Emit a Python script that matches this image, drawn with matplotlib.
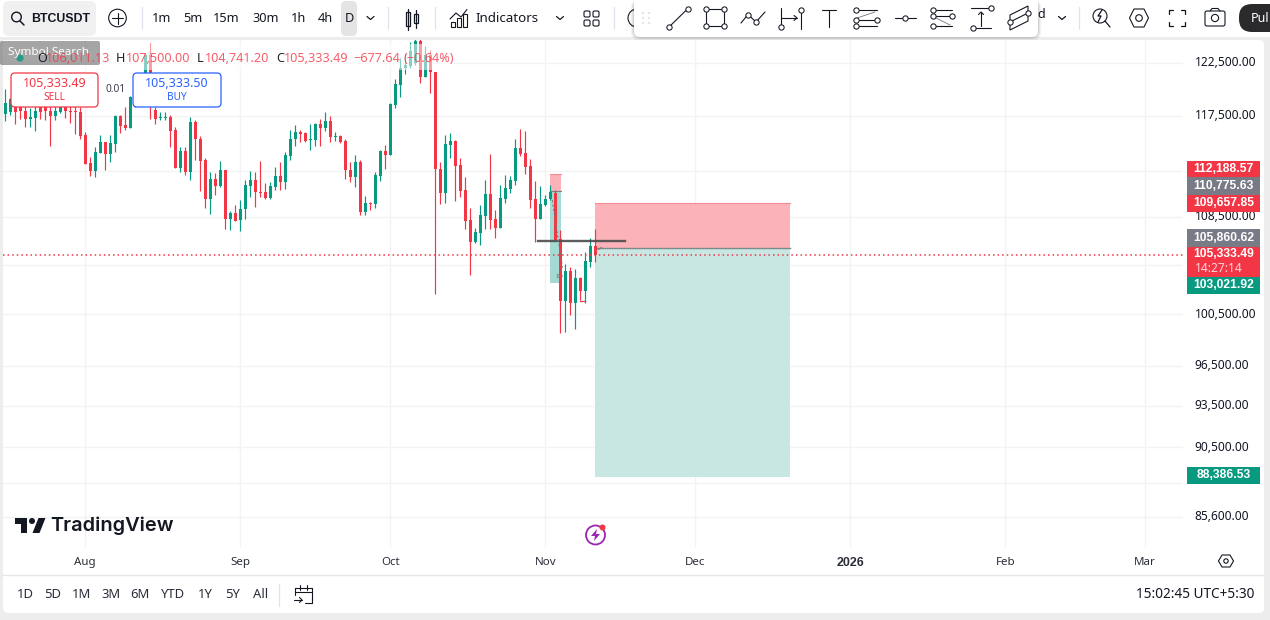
import matplotlib
matplotlib.use("Agg")
import matplotlib.pyplot as plt
from matplotlib.patches import FancyBboxPatch, Rectangle, Circle, Polygon
from matplotlib.transforms import ScaledTranslation

plt.rcParams['font.family'] = ['Noto Sans', 'DejaVu Sans']

# daily candles, first one is 16 Jul 2025
opens = [117640, 117850, 118320, 118420, 117920, 117200, 117260, 118480, 118570, 117920, 117480, 117860,
         118320, 117920, 117920, 117860, 115700, 113240, 112470, 114110, 115070, 113990, 114890, 117480,
         116620, 116340, 119260, 118690, 120080, 123240, 118010, 117290, 117290, 117390, 116160, 112740,
         114230, 112410, 116930, 115400, 113450, 110020, 111740, 111150, 112560, 108330, 108790, 108220,
         109150, 111180, 111680, 110660, 110630, 110140, 111090, 112030, 111530, 113840, 115370, 115980,
         115860, 115280, 115250, 116710, 116340, 116990, 115520, 115610, 115160, 112620, 111970, 113270,
         108930, 109700, 109590, 112060, 114260, 113900, 118480, 120360, 121950, 122170, 122460, 124600,
         121150, 123240, 121600, 112710, 110570, 114800, 115160, 113010, 110800, 108220, 106360, 107120,
         108560, 110510, 108300, 107540, 110020, 110890, 111620, 114530, 114050, 112920, 110020, 108300,
         109500, 110020, 110570, 106610, 101530, 103960, 101400, 103390, 102330, 104720, 106011.13]
highs = [119950, 119100, 118480, 118480, 118480, 118165, 118940, 118630, 118630, 118630, 118480, 118940,
         118940, 118480, 118630, 118320, 116010, 113750, 114650, 115700, 115070, 115700, 117540, 117540,
         118320, 119320, 119410, 120300, 123400, 124375, 118320, 117860, 117860, 117540, 116410, 114590,
         114650, 117330, 117080, 115610, 113660, 112410, 112270, 113390, 112620, 109010, 109500, 109940,
         111680, 112500, 112410, 113360, 111390, 111530, 112860, 113300, 114200, 116220, 116620, 116220,
         116010, 116710, 116830, 117230, 117860, 117450, 116010, 115730, 115340, 113300, 113900, 113510,
         110280, 109790, 112410, 114350, 114800, 118630, 120930, 122910, 123400, 124540, 126200, 126100,
         124110, 123720, 121600, 113300, 115700, 115860, 115310, 113660, 111970, 109270, 107560, 109500,
         111680, 113960, 109130, 111300, 112120, 112030, 115400, 116310, 116070, 113600, 111590, 111150,
         110370, 111240, 110800, 107370, 104590, 104320, 104120, 103500, 105550, 106720, 107500.00]
lows = [117020, 117540, 116770, 117230, 116410, 116460, 116070, 117230, 117080, 114710, 117080, 117770,
        117290, 116860, 115770, 115400, 113150, 112030, 111970, 114050, 112620, 113300, 114200, 115920,
        116220, 116340, 118320, 118480, 119880, 117230, 116770, 117140, 117140, 114590, 112740, 112410,
        112120, 111680, 113450, 110710, 109270, 108730, 110370, 111090, 107510, 107370, 108130, 107310,
        108360, 110230, 109360, 110230, 110080, 110080, 110800, 110860, 110890, 113450, 114740, 115100,
        115100, 114350, 114740, 114710, 116100, 115100, 115160, 115040, 111770, 111500, 111090, 108640,
        108640, 109070, 109270, 111620, 112650, 113900, 118200, 119260, 121400, 121950, 122270, 120570,
        121090, 119630, 102090, 109590, 109650, 113630, 109850, 110230, 107450, 103630, 106330, 106110,
        107450, 107450, 106690, 107540, 109700, 110570, 111240, 113810, 112210, 109240, 106390, 108300,
        109420, 109940, 106530, 99030, 99110, 100420, 99320, 101610, 101430, 104320, 104741.20]
closes = [118630, 119050, 117860, 117920, 117200, 117390, 117920, 117860, 117920, 117450, 117920, 118320,
          117920, 117820, 117860, 115610, 113150, 112470, 114170, 115070, 113990, 114950, 117480, 116520,
          116340, 119260, 118690, 120080, 123240, 118320, 117200, 117390, 117360, 116100, 112740, 114230,
          112380, 116900, 115370, 113360, 110020, 111740, 111150, 112560, 108300, 108790, 108190, 109210,
          111240, 111680, 110630, 110540, 110140, 111150, 112030, 111530, 113900, 115400, 115980, 115800,
          115160, 115370, 116710, 116340, 116990, 115550, 115610, 115100, 112560, 111970, 113270, 108930,
          109650, 109590, 112120, 114260, 113900, 118570, 120450, 121950, 122270, 123620, 124600, 121150,
          123240, 121560, 112650, 110570, 114890, 115160, 112950, 110710, 108160, 106360, 107200, 108640,
          110510, 108220, 107540, 110110, 110980, 111680, 114530, 113990, 112860, 109940, 108300, 109590,
          110080, 110660, 106530, 101530, 103960, 101400, 103390, 102330, 104780, 106030, 105333.49]

month_names = ["Aug", "Sep", "Oct", "Nov", "Dec", "2026", "Feb", "Mar"]
month_bars = [16, 47, 77, 108, 138, 169, 200, 228]
grid_prices = [122500, 117500, 112500, 108500, 104500, 100500, 96500, 93500, 90500, 88000, 85700]
grid_labels = ["122,500.00", "117,500.00", "", "108,500.00", "", "100,500.00",
               "96,500.00", "93,500.00", "90,500.00", "", "85,600.00"]

last_price = 105333.49
# long position tools: target, entry, stop
small_top, small_entry, small_bottom = 112188.57, 110775.63, 103021.92
big_top, big_entry, big_bottom = 109657.85, 105860.62, 88386.53
level_price = 106450

green = "#089981"
red = "#F23645"
pale_red = "#FBB2B8"
pale_teal = "#C8E7E2"
dark_teal = "#A5DAD2"
ink = "#131722"
grid_col = "#F3F3F3"
page = "#EDEDED"

fig = plt.figure(figsize=(12.7, 6.2), dpi=100, facecolor=page)

# white card behind everything
bg = fig.add_axes([0, 0, 1, 1], zorder=-1)
bg.set_xlim(0, 1270)
bg.set_ylim(620, 0)
bg.axis("off")
bg.add_patch(FancyBboxPatch((3, 40), 1261, 573, boxstyle="round,pad=0,rounding_size=5", fc="white", lw=0))

# ---- chart pane ----
ax = fig.add_axes([3 / 1270, (620 - 547) / 620, 1180 / 1270, 507 / 620], facecolor="white", zorder=1)
ax.set_yscale("log")
ax.set_xlim(-0.46, 235.54)
ax.set_ylim(83680, 124703)
for s in ax.spines.values():
    s.set_visible(False)

ax.yaxis.tick_right()
ax.minorticks_off()
ax.set_yticks(grid_prices)
ax.set_yticklabels(grid_labels, fontsize=8.6, color=ink)
ax.tick_params(axis="y", length=0, pad=8.5, which="both")
ax.tick_params(axis="y", which="minor", right=False, labelright=False)
for t in ax.get_yticklabels():
    t.set_transform(t.get_transform() + ScaledTranslation(0, 1.5 / 100, fig.dpi_scale_trans))
ax.set_xticks(month_bars)
ax.set_xticklabels(month_names, fontsize=8.3, color="#2A2E39")
year_label = ax.get_xticklabels()[5]
year_label.set_family("Liberation Sans")
year_label.set_fontweight("bold")
year_label.set_fontsize(9)
ax.tick_params(axis="x", length=0, pad=7)
ax.grid(True, color=grid_col, linewidth=1)
ax.set_axisbelow(True)

# position boxes sit under the candles
ax.add_patch(Rectangle((109, small_entry), 2.2, small_top - small_entry, color=pale_red, lw=0, zorder=1))
ax.add_patch(Rectangle((109, small_bottom), 2.2, small_entry - small_bottom, color=dark_teal, lw=0, zorder=1))
ax.add_patch(Rectangle((118, big_entry), 39, big_top - big_entry, color=pale_red, lw=0, zorder=1))
ax.add_patch(Rectangle((118, big_bottom), 39, big_entry - big_bottom, color=pale_teal, lw=0, zorder=1))
ax.plot([109, 111.2], [small_top, small_top], color="#F58D95", lw=0.8, zorder=1.5)
ax.plot([109, 111.2], [small_entry, small_entry], color="#7C7F88", lw=0.8, zorder=1.5)
ax.plot([118, 157], [big_top, big_top], color="#F58D95", lw=0.8, zorder=1.5)
ax.plot([118, 157], [big_entry, big_entry], color="#7C8A8A", lw=1, zorder=1.5)

for i in range(len(opens)):
    col = green if closes[i] >= opens[i] else red
    ax.vlines(i, lows[i], highs[i], color=col, lw=0.85, zorder=2)
    body = abs(closes[i] - opens[i])
    ax.bar(i, max(body, 35), bottom=min(opens[i], closes[i]), width=0.72, color=col, lw=0, zorder=2.2)

ax.axhline(last_price, color=red, lw=1.1, linestyle=(0, (1, 2)), zorder=2.5)
ax.plot([106.5, 124], [level_price, level_price], color="#4B4B4B", lw=1.7, alpha=0.9, zorder=3)
ax.plot([115, 116], [101530, 101530], color=red, lw=0.9, zorder=2.3)
ax.plot([109.4, 111.4, 110.2, 112], [109940, 104320, 103450, 103630], color="#777777", lw=0.8,
        linestyle=(0, (2, 2)), zorder=3)
ax.plot([118.6, 119.2], [105750, 105910], color="#777777", lw=0.8, zorder=3)

# ---- interface drawn in pixel coordinates on top ----
ui = fig.add_axes([0, 0, 1, 1], facecolor="none", zorder=5)
ui.set_xlim(0, 1270)
ui.set_ylim(620, 0)
ui.axis("off")


def box(x0, y0, x1, y1, fc, ec="none", r=4, lw=0, alpha=None, z=1):
    p = FancyBboxPatch((x0, y0), x1 - x0, y1 - y0, boxstyle="round,pad=0,rounding_size=%s" % r,
                       fc=fc, ec=ec, lw=lw, alpha=alpha, zorder=z)
    ui.add_patch(p)


def line(xs, ys, col=ink, lw=0.8, z=6):
    ui.plot(xs, ys, color=col, lw=lw, zorder=z, solid_capstyle="round")


def node(x, y, z=7):
    ui.plot([x], [y], "o", mfc="white", mec=ink, ms=3.8, mew=0.75, zorder=z)


def label(x, y, s, size=8.6, col=ink, ha="center", weight="normal", z=6, family=None):
    ui.text(x, y, s, fontsize=size, color=col, ha=ha, va="center", fontweight=weight, zorder=z, family=family)


# top strip and time axis separator
ui.add_patch(Rectangle((0, 0), 1270, 37, fc="white", lw=0, zorder=0.5))
line([3, 1264], [575, 575], col="#E6E6E6", lw=1, z=1)

# top toolbar
box(3, 1, 96, 36, "#F0F0F0", r=6)
ui.add_patch(Circle((16.5, 17), 4.8, fc="none", ec=ink, lw=1, zorder=6))
line([20, 24], [21, 25], lw=1.1)
label(60.5, 18.5, "BTCUSDT", size=8.9, weight="bold", family="Liberation Sans")
ui.add_patch(Circle((117.5, 18), 8.8, fc="none", ec=ink, lw=0.8, zorder=6))
line([112, 123], [18, 18])
line([117.5, 117.5], [12.5, 23.5])
for x, s in zip([161.5, 192.5, 226.5, 265.5, 298.5, 325.5], ["1m", "5m", "15m", "30m", "1h", "4h"]):
    label(x, 18.5, s, size=9.2)
box(341, 1, 357, 36, "#E4E4E4", r=5)
label(349, 18.5, "D", size=9.2)
for x in [370.5, 560, 1062]:
    line([x - 3.5, x, x + 3.5], [16.5, 19.5, 16.5], lw=0.9)
for x in [141.5, 388, 435, 614, 1079]:
    line([x, x], [7, 29], col="#E0E3EB", lw=0.9)
# candle icon
ui.add_patch(Rectangle((405.5, 12), 4, 14, fc="none", ec=ink, lw=0.9, zorder=6))
ui.add_patch(Rectangle((414, 14), 4, 9, fc="none", ec=ink, lw=0.9, zorder=6))
line([407.5, 407.5], [9, 30], lw=0.9)
line([416, 416], [10, 28], lw=0.9)
# indicators icon
line([450, 456, 461, 467], [19, 13, 17, 9.5], lw=0.8)
for x, h in [(451, 5), (457, 9), (463, 13)]:
    ui.add_patch(Rectangle((x, 27 - h), 4, h, fc="none", ec=ink, lw=0.8, zorder=6))
label(507, 18.5, "Indicators", size=9.6)
for x, y in [(587, 14), (596, 14), (587, 23), (596, 23)]:
    ui.add_patch(FancyBboxPatch((x - 3, y - 3), 6, 6, boxstyle="round,pad=0,rounding_size=1.5", fc="none",
                                ec=ink, lw=0.8, zorder=6))
ui.add_patch(Circle((637, 18), 9, fc="none", ec=ink, lw=0.8, zorder=2))

# right side of the toolbar
label(1041, 14, "d", size=9)
ui.add_patch(Circle((1100, 16), 7, fc="none", ec=ink, lw=0.8, zorder=6))
line([1105, 1110], [21, 27], lw=0.9)
line([1102, 1098, 1101, 1098], [10, 16, 16, 22], lw=0.9)
ui.add_patch(Polygon([(1129.5, 18), (1134, 9), (1144, 9), (1148.5, 18), (1144, 27), (1134, 27)], fc="none",
                     ec=ink, lw=0.8, zorder=6))
ui.add_patch(Circle((1139, 18), 3.3, fc="none", ec=ink, lw=0.8, zorder=6))
for sx, sy in [(-1, -1), (1, -1), (-1, 1), (1, 1)]:
    line([1177 + sx * 8, 1177 + sx * 8, 1177 + sx * 4], [18 + sy * 4, 18 + sy * 8, 18 + sy * 8], lw=0.9)
ui.add_patch(FancyBboxPatch((1205, 11), 20, 15, boxstyle="round,pad=0,rounding_size=2", fc="none", ec=ink,
                            lw=0.8, zorder=6))
ui.add_patch(Circle((1215, 18), 3.6, fc="none", ec=ink, lw=0.8, zorder=6))
line([1210, 1212, 1218, 1220], [11, 8.5, 8.5, 11], lw=0.8)
box(1239, 4, 1290, 32, "#2A2A2D", r=13, z=2)
ui.text(1251, 18, "Pul", fontsize=9, color="white", ha="left", va="center", zorder=6, clip_on=True)

# floating drawing toolbar
for grow, a in [(3, 0.05), (2, 0.06), (1, 0.08)]:
    box(634 - grow, 0, 1038 + grow, 37 + grow, "black", r=8, alpha=a, z=2)
box(634, -6, 1038, 37, "white", r=6, z=3)
for x in [643, 649]:
    for y in [13, 18, 23]:
        ui.add_patch(Circle((x, y), 0.8, fc="#C8CAD0", lw=0, zorder=6))
line([669, 688], [27, 8.5])
node(669, 27)
node(688, 8.5)
ui.add_patch(Rectangle((705.5, 9), 18.5, 17, fc="none", ec=ink, lw=0.8, zorder=6))
for x, y in [(705.5, 9), (724, 9), (705.5, 26), (724, 26)]:
    node(x, y)
line([741, 748, 756, 765], [23, 14.5, 22, 12])
node(748, 14.5)
node(756, 22)
line([781, 781], [8, 29])
line([801, 801], [8, 29])
line([781, 797], [18, 18])
line([794, 797, 794], [15.5, 18, 20.5])
node(781, 27)
node(801, 10)
line([822, 836], [9.5, 9.5])
line([829, 829], [9.5, 26.5])
for y in [10, 20, 26]:
    line([855, 877], [y, y])
line([857, 875], [18, 12], col="#777777", lw=0.6)
for x, y in [(856, 10), (877, 20), (856, 20), (856, 26)]:
    node(x, y)
line([894.5, 916], [18, 18])
node(905, 18)
for y in [10, 16, 26]:
    line([932, 952], [y, y])
line([934, 950], [17, 25], col="#777777", lw=0.6)
for x, y in [(933, 10), (952, 16), (933, 16), (933, 26)]:
    node(x, y)
line([971, 990], [8, 8])
line([973, 991], [28, 28])
line([981, 981], [26, 12])
line([978.5, 981, 983.5], [14.5, 12, 14.5])
node(991, 8)
node(973, 28)
ui.add_patch(Polygon([(1010, 15), (1028, 6), (1028, 21), (1010, 30)], fc="none", ec=ink, lw=0.8, zorder=6))
line([1010, 1028], [22, 13])
node(1010, 22)
node(1028, 13)

# legend band lightens what is under it
ui.add_patch(Rectangle((3, 44), 452, 26, fc="white", alpha=0.52, lw=0, zorder=1))
box(0, 41, 100, 65, "#6E6E6E", r=2, alpha=0.62, z=2)
label(48, 52.5, "Symbol Search", size=8.4, col="white")
ui.add_patch(Circle((20, 58), 3.6, fc=green, alpha=0.8, lw=0, zorder=3))
legend_bits = [(37, "O", ink), (46, "106,011.13", red), (116, "H", ink), (126, "107,500.00", red),
               (197, "L", ink), (205, "104,741.20", red), (276, "C", ink), (284, "105,333.49", red),
               (353, "\u2212677.64", red), (404, "(\u22120.64%)", red)]
for x, s, c in legend_bits:
    ui.text(x, 58, s, fontsize=9.1, color=c, ha="left", va="center", alpha=0.8 if c == red else 0.95, zorder=6)

# sell and buy buttons
box(11, 73, 98, 107, "white", ec=red, r=4, lw=0.9, z=3)
label(54.5, 83.5, "105,333.49", size=9, col=red)
label(54.5, 98, "SELL", size=7.3, col=red)
label(116, 89.5, "0.01", size=7.3, col="#3A3E4A")
box(133, 73, 221, 107, "white", ec="#2962FF", r=4, lw=0.9, z=3)
label(177, 83.5, "105,333.50", size=9, col="#2962FF")
label(177, 98, "BUY", size=7.3, col="#2962FF")

# price tags on the axis
tag_list = [(161, 177, "112,188.57", red), (177, 195, "110,775.63", "#787B86"), (195, 212, "109,657.85", red),
            (229, 247, "105,860.62", "#787B86"), (277, 294, "103,021.92", green), (467, 484, "88,386.53", green)]
for y0, y1, s, c in tag_list:
    ui.add_patch(Rectangle((1187, y0), 73, y1 - y0, fc=c, lw=0, zorder=3))
    label(1223.5, (y0 + y1) / 2, s, size=8.7, col="white", weight="bold", family="Liberation Sans")
ui.add_patch(Rectangle((1187, 247), 73, 30, fc=red, lw=0, zorder=3))
label(1223.5, 254, "105,333.49", size=8.7, col="white", weight="bold", family="Liberation Sans")
label(1195, 268, "14:27:14", size=8.6, col="#FFD5D8", ha="left")

# logo
ui.add_patch(Polygon([(15, 518), (27, 518), (27, 533), (21, 533), (21, 524), (15, 524)], fc=ink, lw=0, zorder=6))
ui.add_patch(Circle((32, 521), 3, fc=ink, lw=0, zorder=6))
ui.add_patch(Polygon([(38.5, 518), (45.5, 518), (39.5, 533), (32.5, 533)], fc=ink, lw=0, zorder=6))
ui.text(50.5, 526, "TradingView", fontsize=14.4, family="Inter", fontweight="semibold", color=ink, ha="left",
        va="center", zorder=6)

# lightning badge
ui.add_patch(Circle((595.5, 535), 9.5, fc="white", ec="#9C27B0", lw=1.3, zorder=6))
ui.add_patch(Polygon([(597, 529), (591, 536), (595, 536), (594, 541), (600, 534), (596, 534)], fc="#9C27B0", lw=0,
                     zorder=7))
ui.add_patch(Circle((602.5, 527.5), 3, fc=red, lw=0, zorder=8))

# settings hexagon next to the time axis
ui.add_patch(Polygon([(1218.5, 561), (1222, 555), (1230, 555), (1233.5, 561), (1230, 567), (1222, 567)], fc="none",
                     ec=ink, lw=0.8, zorder=6))
ui.add_patch(Circle((1226, 561), 2.2, fc="none", ec=ink, lw=0.8, zorder=6))

# bottom bar
range_x = [25, 53, 82, 111, 140, 173, 205, 233, 261]
range_names = ["1D", "5D", "1M", "3M", "6M", "YTD", "1Y", "5Y", "All"]
for x, s in zip(range_x, range_names):
    label(x, 595, s, size=9.4, col="#2A2E39")
line([279, 279], [584, 606], col="#E0E3EB", lw=0.9)
line([312, 312, 295, 295], [600, 588, 588, 595], lw=0.8)
line([295, 312], [592, 592], lw=0.8)
line([300, 300], [585, 590], lw=0.8)
line([307, 307], [585, 590], lw=0.8)
line([312, 312, 305], [598, 603, 603], lw=0.8)
line([294, 302], [600, 600], lw=0.8)
line([299.5, 302, 299.5], [597.5, 600, 602.5], lw=0.8)
ui.text(1254, 595, "15:02:45 UTC+5:30", fontsize=9.8, color=ink, ha="right", va="center", zorder=6)

fig.savefig("out.png", dpi=100, facecolor=fig.get_facecolor())
